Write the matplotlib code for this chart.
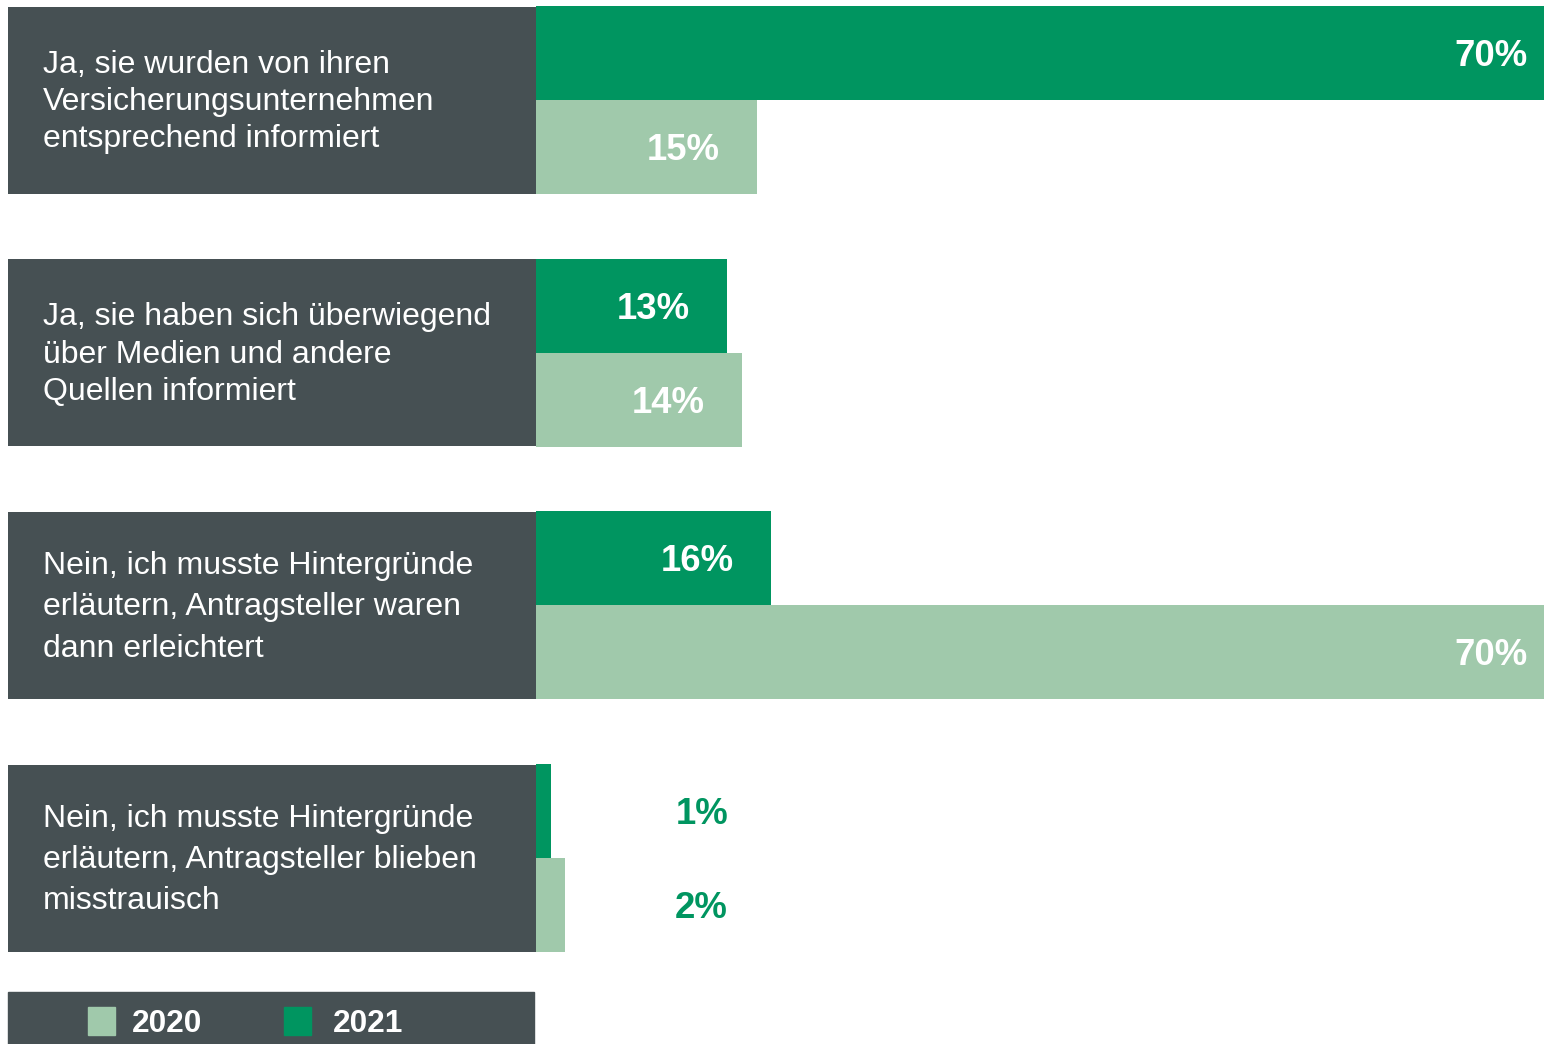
import matplotlib
matplotlib.use("Agg")
import matplotlib.pyplot as plt
from matplotlib.patches import Rectangle

# ---- data ----
categories = [
    "Ja, sie wurden von ihren\nVersicherungsunternehmen\nentsprechend informiert",
    "Ja, sie haben sich überwiegend\nüber Medien und andere\nQuellen informiert",
    "Nein, ich musste Hintergründe\nerläutern, Antragsteller waren\ndann erleichtert",
    "Nein, ich musste Hintergründe\nerläutern, Antragsteller blieben\nmisstrauisch",
]
values_2021 = [70, 13, 16, 1]
values_2020 = [15, 14, 70, 2]
series_labels = ["2020", "2021"]

# ---- style ----
DARK = "#009560"
LIGHT = "#A0C9AB"
GREY = "#465053"
FONT = "Liberation Sans"
PX_PER_PCT = 14.7
X0 = 536  # pixel where bars start


def px(xpix):
    return (xpix - X0) / PX_PER_PCT


fig = plt.figure(figsize=(15.44, 10.44), dpi=100)
ax = fig.add_axes([0, 0, 1, 1])
ax.set_xlim(px(0), px(1544))
ax.set_ylim(1044, 0)
ax.axis("off")

group_step = 252.67
bar_h = 94
linespacings = [1.32, 1.32, 1.49, 1.49]

for i, (cat, v21, v20) in enumerate(zip(categories, values_2021, values_2020)):
    top = 6 + i * group_step
    # label box
    ax.barh(top + bar_h, px(X0) - px(8), height=2 * bar_h - 1, left=px(8),
            color=GREY, align="center")
    ax.text(px(43), top + bar_h + 2, cat, color="white", fontsize=23,
            family=FONT, va="center", ha="left", linespacing=linespacings[i])
    for v, yc, col in [(v21, top + bar_h / 2, DARK), (v20, top + bar_h * 1.5, LIGHT)]:
        ax.barh(yc, v, height=bar_h, left=0, color=col, align="center")
        if v >= 5:
            xr = v - 37 / PX_PER_PCT
            ax.text(xr, yc + 3.5, f"{v}%", color="white",
                    fontsize=26.3, fontweight="bold", family=FONT,
                    ha="right", va="center")
        else:
            ax.text(px(728), yc + 3.5, f"{v}%", color=DARK, fontsize=26.3,
                    fontweight="bold", family=FONT, ha="right", va="center")

# legend
ax.add_patch(Rectangle((px(8), 992), px(534) - px(8), 60, color=GREY, clip_on=False))
for lab, col, sx, tx in [(series_labels[0], LIGHT, 88, 132), (series_labels[1], DARK, 284, 333)]:
    ax.add_patch(Rectangle((px(sx), 1007), px(sx + 27) - px(sx), 28, color=col))
    ax.text(px(tx), 1024, lab, color="white", fontsize=22.8, fontweight="bold",
            family=FONT, ha="left", va="center")

fig.savefig("out.png", dpi=100, facecolor="white")
